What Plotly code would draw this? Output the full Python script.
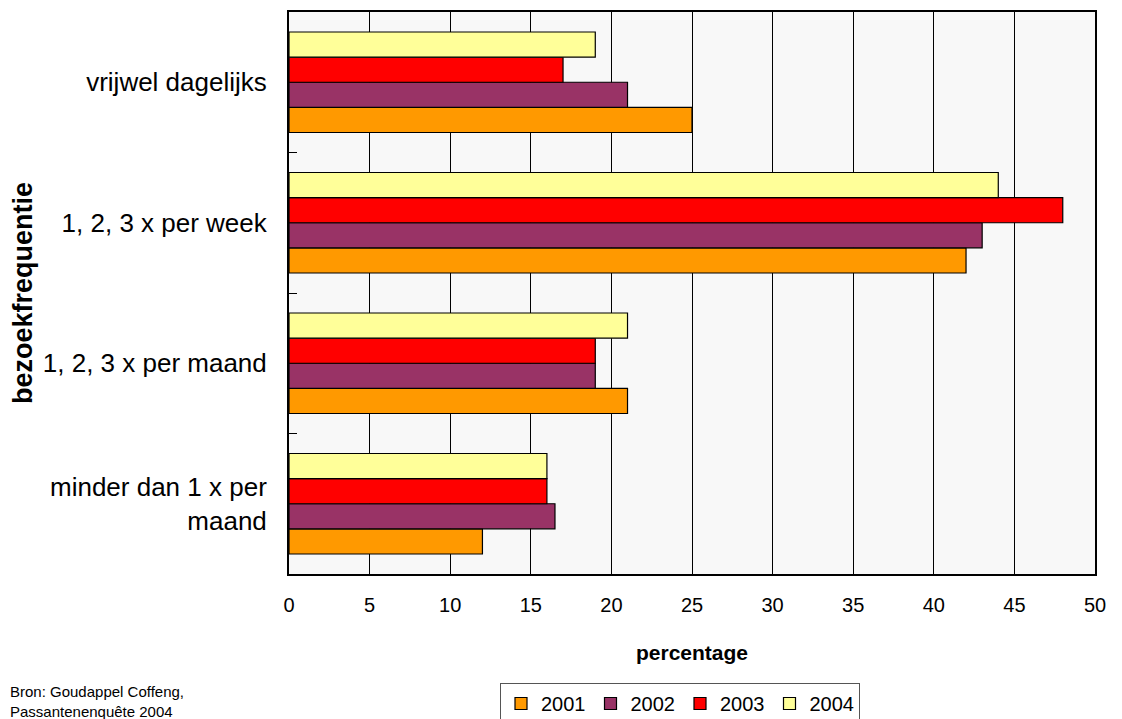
import plotly.graph_objects as go

# Visit frequency categories (bottom to top) and share per survey year (%)
categories = ["minder dan 1 x per<br>maand", "1, 2, 3 x per maand", "1, 2, 3 x per week", "vrijwel dagelijks"]
years = ["2001", "2002", "2003", "2004"]
values_2001 = [12, 21, 42, 25]
values_2002 = [16.5, 19, 43, 21]
values_2003 = [16, 19, 48, 17]
values_2004 = [16, 21, 44, 19]
x_ticks = [0, 5, 10, 15, 20, 25, 30, 35, 40, 45, 50]

series = [values_2001, values_2002, values_2003, values_2004]
colors = ["#FF9900", "#993366", "#FF0000", "#FFFF99"]

FONT = "Liberation Sans, Arial, sans-serif"

fig = go.Figure()
for year, vals, col in zip(years, series, colors):
    fig.add_trace(go.Bar(
        y=categories, x=vals, name=year, orientation="h",
        marker=dict(color=col, line=dict(color="#000000", width=1.2)),
    ))

fig.update_layout(
    width=1122, height=719,
    margin=dict(l=289, r=27, t=12, b=145),
    paper_bgcolor="#FFFFFF",
    plot_bgcolor="#F8F8F8",
    barmode="group",
    bargap=0.285,
    bargroupgap=0,
    font=dict(family=FONT, size=20, color="#000000"),
    xaxis=dict(
        range=[0, 50], tickvals=x_ticks, ticks="", showgrid=True,
        gridcolor="#000000", gridwidth=1, zeroline=False,
        showline=True, linecolor="#000000", linewidth=2, mirror=True,
        tickfont=dict(size=20), ticklabelstandoff=12, automargin=False,
        title=dict(text="<b>percentage</b>", font=dict(size=21), standoff=30),
    ),
    yaxis=dict(
        type="category", tickson="boundaries", ticks="inside", ticklen=8,
        tickcolor="#000000", showgrid=False, zeroline=False,
        showline=True, linecolor="#000000", linewidth=2, mirror=True,
        tickfont=dict(size=26), ticklabelstandoff=15, automargin=False,
        title=dict(text="<b>bezoekfrequentie</b>", font=dict(size=27), standoff=2),
    ),
    legend=dict(
        orientation="h", xref="container", yref="container",
        x=680 / 1122, xanchor="center", y=1 - 683 / 719, yanchor="top",
        bordercolor="#555555", borderwidth=1, bgcolor="#FFFFFF",
        font=dict(size=20), traceorder="normal", itemwidth=30,
    ),
    annotations=[dict(
        text="Bron: Goudappel Coffeng,<br>Passantenenquête 2004",
        xref="paper", yref="paper", x=-0.3486, y=-0.19,
        xanchor="left", yanchor="top", align="left", showarrow=False,
        font=dict(size=15),
    )],
)

fig.write_html("out.html")
